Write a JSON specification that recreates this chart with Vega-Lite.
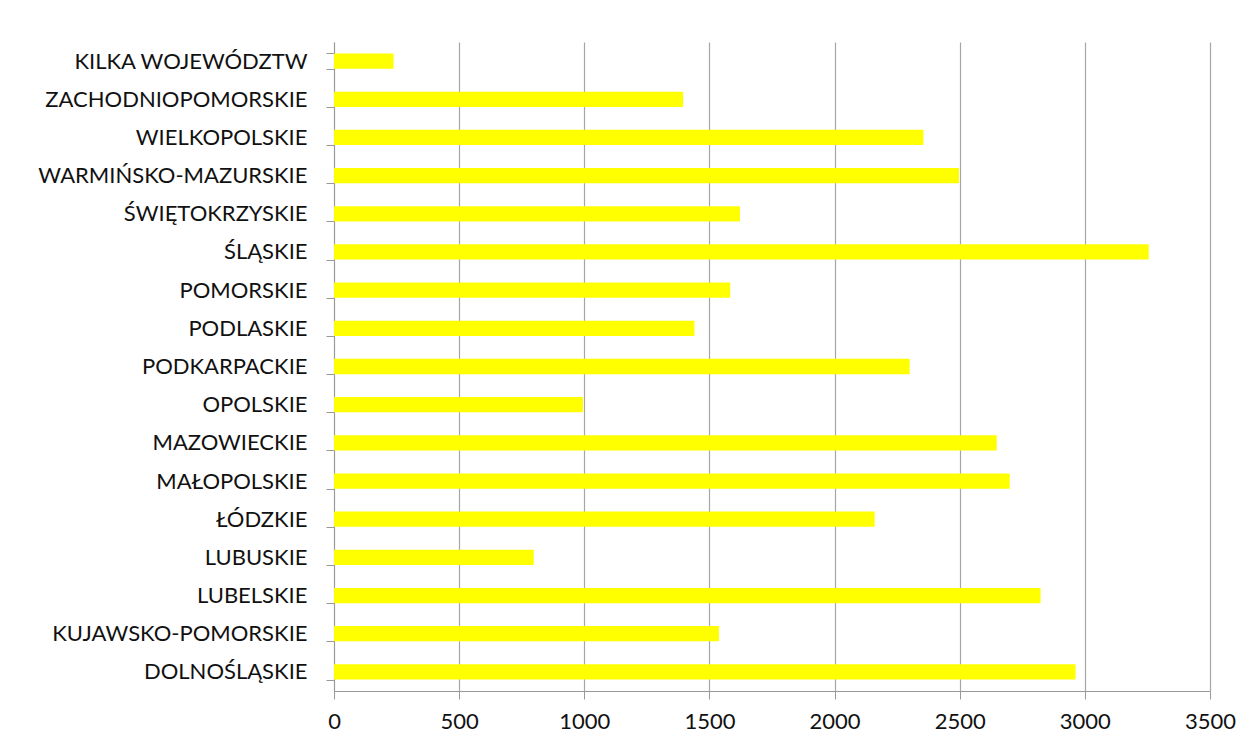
{
  "$schema": "https://vega.github.io/schema/vega-lite/v6.json",
  "autosize": {"type": "none"},
  "padding": {"left": 334, "top": 42, "right": 49, "bottom": 60},
  "width": 876,
  "height": 649,
  "background": "white",
  "data": {
    "values": [
      {"region": "KILKA WOJEWÓDZTW", "value": 238},
      {"region": "ZACHODNIOPOMORSKIE", "value": 1395},
      {"region": "WIELKOPOLSKIE", "value": 2355},
      {"region": "WARMIŃSKO-MAZURSKIE", "value": 2497},
      {"region": "ŚWIĘTOKRZYSKIE", "value": 1622},
      {"region": "ŚLĄSKIE", "value": 3255},
      {"region": "POMORSKIE", "value": 1583},
      {"region": "PODLASKIE", "value": 1440},
      {"region": "PODKARPACKIE", "value": 2300},
      {"region": "OPOLSKIE", "value": 995},
      {"region": "MAZOWIECKIE", "value": 2648},
      {"region": "MAŁOPOLSKIE", "value": 2700},
      {"region": "ŁÓDZKIE", "value": 2160},
      {"region": "LUBUSKIE", "value": 798},
      {"region": "LUBELSKIE", "value": 2823},
      {"region": "KUJAWSKO-POMORSKIE", "value": 1538},
      {"region": "DOLNOŚLĄSKIE", "value": 2963}
    ]
  },
  "mark": {"type": "bar", "color": "#FFFF00", "cornerRadius": 0},
  "encoding": {
    "y": {
      "field": "region",
      "type": "nominal",
      "sort": null,
      "title": null,
      "scale": {"paddingInner": 0.6, "paddingOuter": 0.3},
      "axis": {
        "tickBand": "extent",
        "tickSize": 8,
        "tickColor": "#999999",
        "domainColor": "#999999",
        "labelPadding": 19,
        "labelFont": "Lato",
        "labelFontSize": 22,
        "labelLimit": 0,
        "labelColor": "#111111",
        "grid": false
      }
    },
    "x": {
      "field": "value",
      "type": "quantitative",
      "title": null,
      "scale": {"domain": [0, 3500], "nice": false},
      "axis": {
        "values": [0, 500, 1000, 1500, 2000, 2500, 3000, 3500],
        "format": "d",
        "grid": true,
        "gridColor": "#A6A6A6",
        "gridWidth": 1.2,
        "tickSize": 8,
        "tickColor": "#999999",
        "domainColor": "#999999",
        "labelPadding": 12,
        "labelFont": "Lato",
        "labelFontSize": 22,
        "labelColor": "#111111",
        "labelFlush": false
      }
    }
  },
  "config": {"view": {"stroke": null}}
}
